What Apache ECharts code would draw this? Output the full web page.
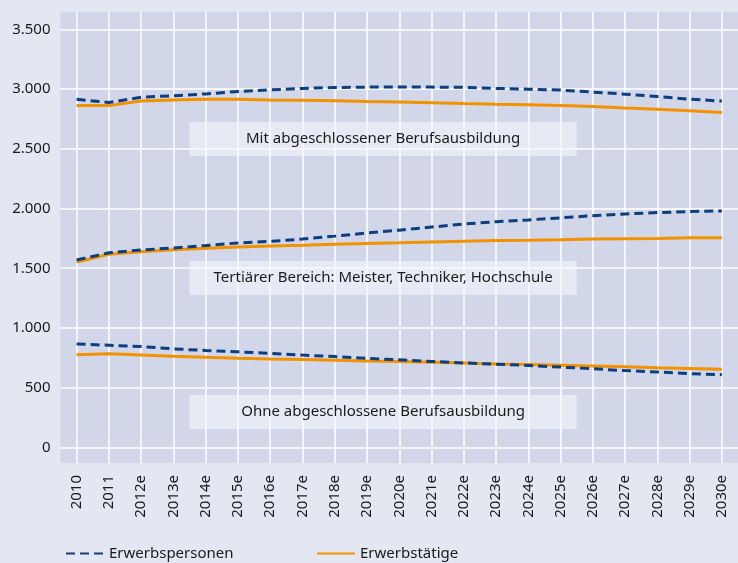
<!DOCTYPE html>
<html><head><meta charset="utf-8">
<script src="https://cdn.jsdelivr.net/npm/echarts@6/dist/echarts.min.js"></script>
<style>html,body{margin:0;padding:0;background:#e4e6f1;}#c{width:738px;height:563px;}</style>
</head><body><div id="c"></div>
<script>
const categories = ['2010','2011','2012e','2013e','2014e','2015e','2016e','2017e','2018e','2019e','2020e','2021e','2022e','2023e','2024e','2025e','2026e','2027e','2028e','2029e','2030e'];
const yTicks = [0,500,1000,1500,2000,2500,3000,3500];
// Mit abgeschlossener Berufsausbildung
const berufPersonen = [2915,2888,2932,2945,2960,2980,2994,3006,3014,3017,3017,3017,3015,3006,3000,2992,2975,2958,2938,2916,2900];
const berufTaetige  = [2864,2862,2900,2908,2915,2915,2910,2907,2902,2896,2893,2887,2880,2874,2870,2863,2855,2841,2832,2818,2804];
// Tertiärer Bereich
const tertPersonen = [1569,1630,1653,1670,1690,1712,1725,1744,1769,1795,1819,1845,1870,1890,1905,1922,1940,1955,1966,1975,1980];
const tertTaetige  = [1553,1617,1639,1655,1668,1678,1686,1692,1700,1708,1713,1720,1727,1733,1735,1738,1744,1747,1750,1755,1755];
// Ohne abgeschlossene Berufsausbildung
const ohnePersonen = [866,855,844,825,811,800,787,773,760,745,733,720,707,696,686,672,658,643,631,617,609];
const ohneTaetige  = [775,784,773,762,754,746,740,735,729,723,718,713,707,699,694,688,682,675,667,661,654];
const groupLabels = ['Mit abgeschlossener Berufsausbildung','Tertiärer Bereich: Meister, Techniker, Hochschule','Ohne abgeschlossene Berufsausbildung'];
const groupLabelValues = [2582,1418,296];
const seriesNames = ['Erwerbspersonen','Erwerbstätige'];

const BLUE = '#0b3f80', ORANGE = '#f39200';
const FONT = 'Noto Sans';
const chart = echarts.init(document.getElementById('c'), null, {renderer:'canvas'});

function line(name, data, dashed) {
  return {
    name: name, type: 'line', data: data, symbol: 'none', smooth: false,
    lineStyle: dashed ? {color: BLUE, width: 3, type: [9,5]} : {color: ORANGE, width: 3},
    itemStyle: {color: dashed ? BLUE : ORANGE},
    z: dashed ? 4 : 3, silent: true
  };
}

const legendCommon = {top: 541, itemWidth: 38, itemHeight: 14, itemGap: 10,
  itemStyle: {opacity: 0, borderWidth: 0},
  textStyle: {fontFamily: FONT, fontSize: 15, color: '#1a1a1a'}, selectedMode: false};

const option = {
  animation: false,
  backgroundColor: '#e4e6f1',
  textStyle: {fontFamily: FONT},
  grid: {left: 60.5, width: 681, top: 12, bottom: 100, show: true, backgroundColor: '#d1d6e9', borderWidth: 0, containLabel: false},
  legend: [
    Object.assign({data: [seriesNames[0]], left: 60}, legendCommon),
    Object.assign({data: [seriesNames[1]], left: 311}, legendCommon)
  ],
  xAxis: {
    type: 'category', data: categories, boundaryGap: true,
    axisLine: {show: false}, axisTick: {show: false, alignWithLabel: true},
    splitLine: {show: true, alignWithLabel: true, lineStyle: {color: '#ffffff', width: 1.5}},
    axisLabel: {rotate: 90, margin: 12, fontFamily: FONT, fontSize: 15, color: '#1a1a1a', interval: 0}
  },
  yAxis: {
    type: 'value', min: -131, max: 3646,
    axisLine: {show: false},
    axisTick: {show: false, customValues: yTicks},
    splitLine: {show: true, lineStyle: {color: '#ffffff', width: 1.5}},
    axisLabel: {customValues: yTicks, margin: 10, fontFamily: FONT, fontSize: 15, color: '#1a1a1a',
      formatter: v => String(v).replace(/\B(?=(\d{3})+(?!\d))/g, '.')}
  },
  series: [
    line(seriesNames[1], berufTaetige, false),
    line(seriesNames[0], berufPersonen, true),
    line(seriesNames[1], tertTaetige, false),
    line(seriesNames[0], tertPersonen, true),
    line(seriesNames[1], ohneTaetige, false),
    line(seriesNames[0], ohnePersonen, true)
  ]
};
chart.setOption(option);

// annotation boxes spanning from between 2013e/2014e to between 2025e/2026e
const px = i => chart.convertToPixel({xAxisIndex: 0}, i);
const x1 = (px(3) + px(4)) / 2, x2 = (px(15) + px(16)) / 2;
const graphics = [];
groupLabels.forEach((t, k) => {
  const yc = chart.convertToPixel({yAxisIndex: 0}, groupLabelValues[k]);
  graphics.push({type: 'rect', shape: {x: x1, y: yc - 17, width: x2 - x1, height: 34},
    style: {fill: 'rgba(245,246,252,0.6)'}, z: 1});
  graphics.push({type: 'text', x: (x1 + x2) / 2, y: yc, z: 2,
    style: {text: t, fontFamily: FONT, fontSize: 15, fill: '#1a1a1a', align: 'center', verticalAlign: 'middle'}});
});
chart.setOption({graphic: graphics});
</script></body></html>
